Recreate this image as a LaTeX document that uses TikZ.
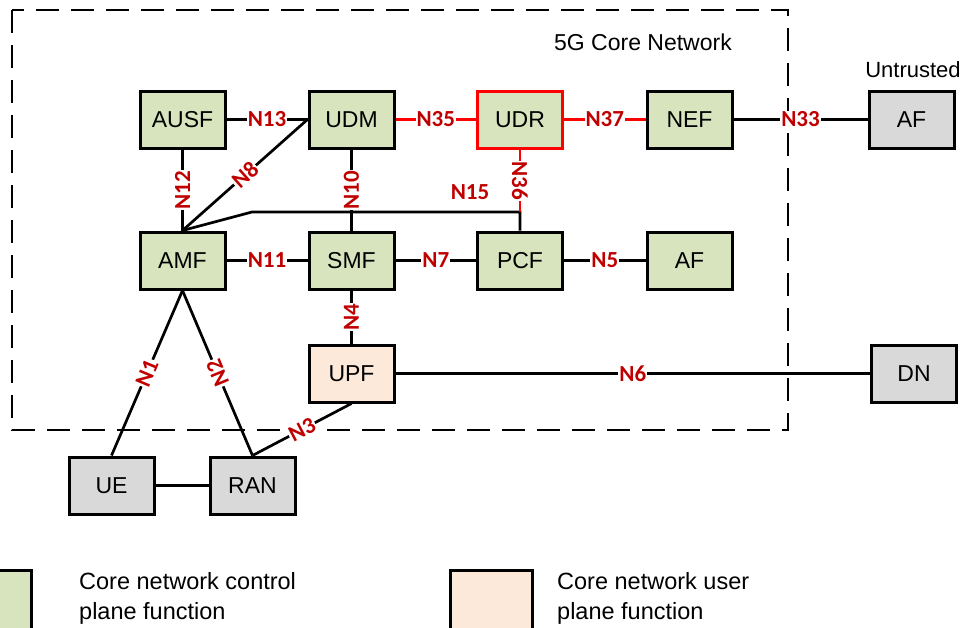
\documentclass[tikz,border=0pt]{standalone}
\usepackage{fontspec}
\setmainfont{Liberation Sans}
\newfontfamily\lblfont{Carlito}
\definecolor{cpgreen}{HTML}{D7E4BD}
\definecolor{uppeach}{HTML}{FDE9D9}
\definecolor{extgray}{HTML}{D9D9D9}
\definecolor{lblred}{HTML}{C00000}
\definecolor{hired}{HTML}{FF0000}
\tikzset{
  nf/.style={draw=black, line width=3pt, minimum width=85pt, minimum height=57pt,
    inner sep=0pt, font=\fontsize{23}{23}\selectfont},
  cp/.style={nf, fill=cpgreen},
  up/.style={nf, fill=uppeach},
  ext/.style={nf, fill=extgray},
  link/.style={draw=black, line width=2.7pt},
  redlink/.style={draw=hired, line width=2.7pt},
  iface/.style={font=\lblfont\bfseries\fontsize{23}{23}\selectfont, text=lblred,
    fill=white, inner sep=1pt},
  boundary/.style={draw=black, line width=2.8pt, dash pattern=on 23pt off 12pt},
  legendtext/.style={anchor=west, align=left, inner sep=0pt,
    font=\fontsize{23.5}{30}\selectfont}
}
\begin{document}
\begin{tikzpicture}[x=1pt, y=-1pt]
\useasboundingbox (0,0) rectangle (964,627);

% core network boundary
\draw[boundary] (12,10) rectangle (788,430);
\node[font=\fontsize{23}{23}\selectfont] (title) at (643,42) {5G Core Network};
\node[font=\fontsize{22}{22}\selectfont] (untr) at (913,70) {Untrusted};

% network functions
\node[cp] (ausf) at (182.5,119.5) {AUSF};
\node[cp] (udm)  at (351.5,119.5) {UDM};
\node[cp, draw=hired] (udr) at (520,119.5) {UDR};
\node[cp] (nef)  at (689.5,119.5) {NEF};
\node[ext] (afx) at (911.5,119.5) {AF};
\node[cp] (amf)  at (182.5,260.5) {AMF};
\node[cp] (smf)  at (351.5,260.5) {SMF};
\node[cp] (pcf)  at (520,260.5) {PCF};
\node[cp] (af)   at (689.5,260.5) {AF};
\node[up] (upf)  at (351.5,373.5) {UPF};
\node[ext] (dn)  at (914,373.5) {DN};
\node[ext] (ue)  at (111.5,485.5) {UE};
\node[ext] (ran) at (252.5,485.5) {RAN};

% junction points of the N15 / N36 path
\coordinate (bend) at (252,212);
\coordinate (tee) at (pcf.north |- bend);

% reference points
\draw[link] (ausf) -- node[iface] {N13} (udm);
\draw[redlink] (udm) -- node[iface] {N35} (udr);
\draw[redlink] (udr) -- node[iface] {N37} (nef);
\draw[link] (nef) -- node[iface] {N33} (afx);
\draw[link] (ausf) -- node[iface, rotate=90] {N12} (amf);
\draw[link] (amf.north) -- node[iface, sloped] {N8} (udm.west);
\draw[link] (udm) -- node[iface, rotate=90] {N10} (smf);
\draw[link] (amf.north) -- (bend) -- (tee) -- (pcf.north);
\node[iface, fill=none] (n15) at (470,192) {N15};
\draw[redlink] (udr.south) -- node[iface, rotate=-90] {N36} (tee);
\draw[link] (amf) -- node[iface] {N11} (smf);
\draw[link] (smf) -- node[iface] {N7} (pcf);
\draw[link] (pcf) -- node[iface] {N5} (af);
\draw[link] (smf) -- node[iface, rotate=90] {N4} (upf);
\draw[link] (upf) -- node[iface] {N6} (dn);
\draw[link] (amf.south) -- node[iface, rotate=67.4] {N1} (ue.north);
\draw[link] (amf.south) -- node[iface, rotate=112.6] {N2} (ran.north);
\draw[link] (ran.north) -- node[iface, sloped] {N3} (upf.south);
\draw[link] (ue) -- (ran);

% legend
\draw[line width=3pt, fill=cpgreen] (-40,570) rectangle (31,650);
\node[legendtext] (lg1) at (79,598) {Core network control\\plane function};
\draw[line width=3pt, fill=uppeach] (450,570) rectangle (532,650);
\node[legendtext] (lg2) at (557,598) {Core network user\\plane function};
\end{tikzpicture}
\end{document}
